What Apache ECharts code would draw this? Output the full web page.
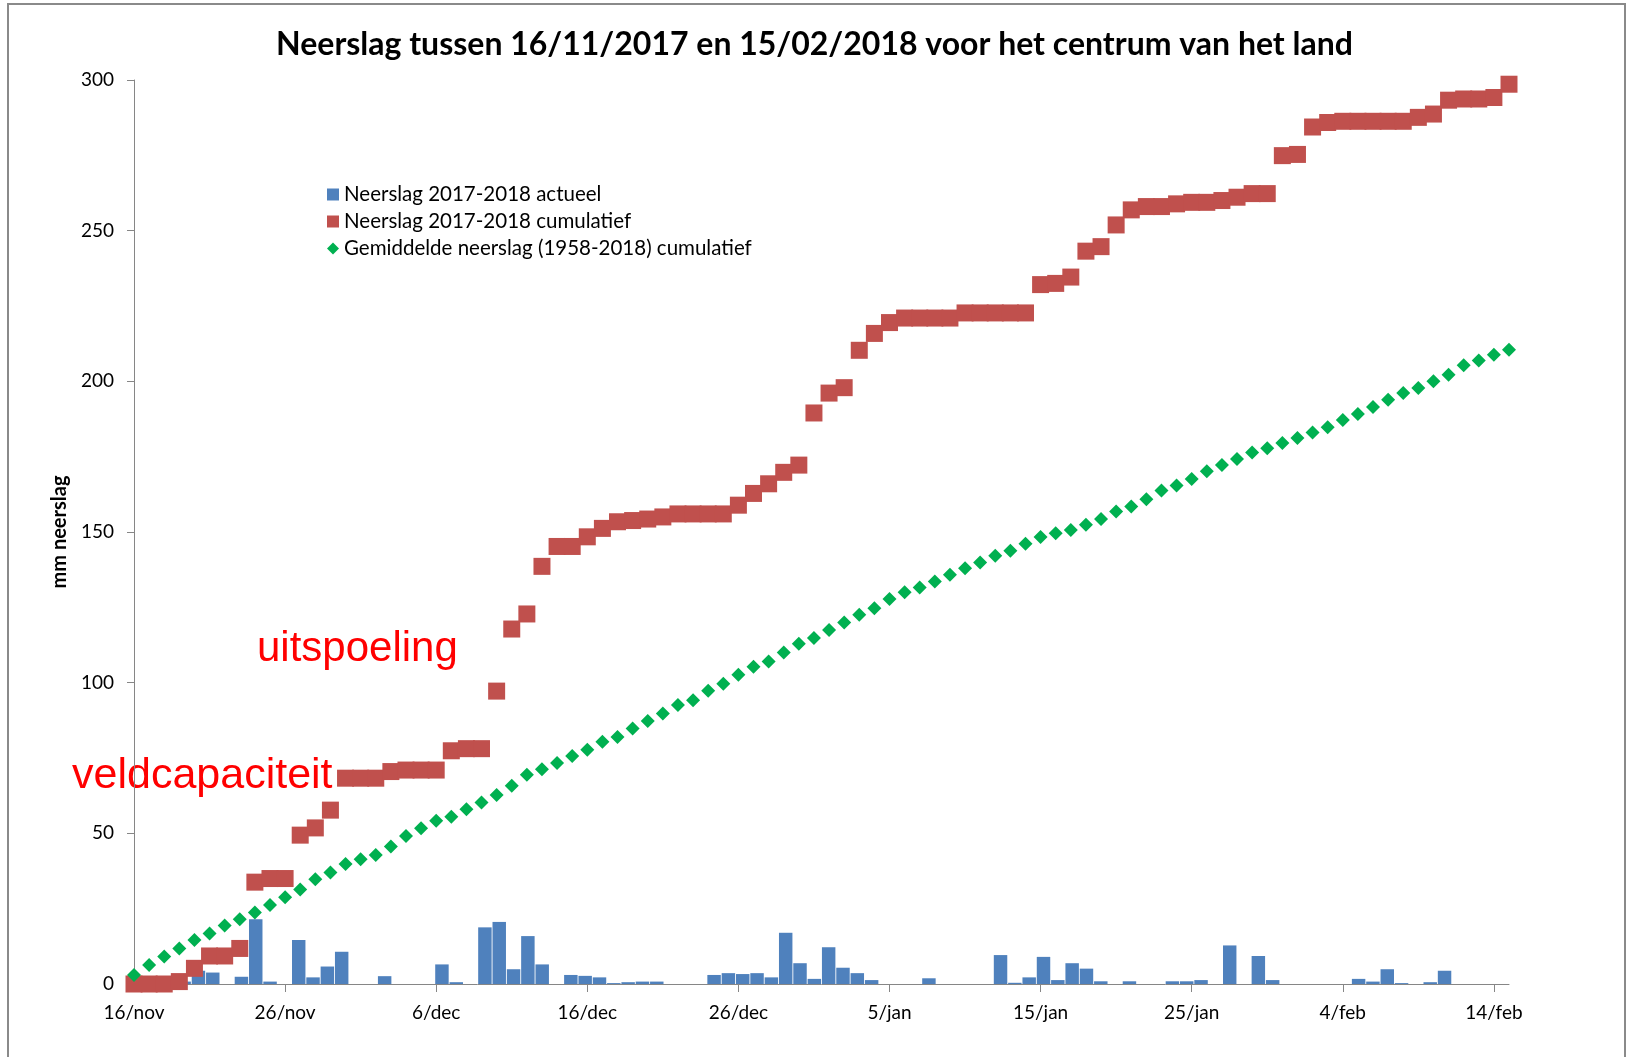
<!DOCTYPE html>
<html>
<head>
<meta charset="utf-8">
<script src="https://cdn.jsdelivr.net/npm/echarts@6/dist/echarts.min.js"></script>
<style>
html,body{margin:0;padding:0;background:#fff;}
#chart{width:1629px;height:1057px;}
</style>
</head>
<body>
<div id="chart"></div>
<script>
// Period: 16/nov/2017 .. 15/feb/2018 (92 days)
const monthSpans = [['nov', 16, 30], ['dec', 1, 31], ['jan', 1, 31], ['feb', 1, 15]];
const dayLabels = [];
monthSpans.forEach(function (m) { for (let d = m[1]; d <= m[2]; d++) dayLabels.push(d + '/' + m[0]); });

// Daily precipitation (mm) 2017-2018
const dailyActual = [
  0, 0, 0, 0.8, 4.4, 3.8, 0, 2.4, 21.5, 0.8,
  0, 14.6, 2.2, 5.8, 10.7, 0, 0, 2.6, 0, 0,
  0, 6.5, 0.6, 0, 18.8, 20.6, 4.9, 15.9, 6.5, 0,
  3.0, 2.7, 2.2, 0.3, 0.6, 0.8, 0.8, 0, 0, 0,
  3.0, 3.6, 3.3, 3.6, 2.2, 17.0, 6.9, 1.7, 12.2, 5.4,
  3.6, 1.3, 0, 0, 0, 1.9, 0, 0, 0, 0,
  9.6, 0.4, 2.2, 9.0, 1.3, 6.9, 5.1, 0.9, 0, 0.9,
  0, 0, 0.9, 0.9, 1.3, 0, 12.8, 0, 9.3, 1.3,
  0, 0, 0, 0, 0, 1.7, 0.8, 4.9, 0.3, 0,
  0.6, 4.4
];

// Cumulative precipitation 2017-2018 (mm)
const cumulative = [
  0, 0, 0, 0.8, 5.2, 9.3, 9.3, 11.8, 33.8, 35,
  35, 49.4, 51.8, 57.7, 68.3, 68.3, 68.3, 70.5, 71, 71,
  71, 77.4, 78.1, 78.1, 97.2, 117.8, 122.8, 138.6, 145.2, 145.2,
  148.4, 151.2, 153.4, 153.8, 154.3, 155.0, 156.0, 156.0, 156.0, 156.0,
  158.9, 162.8, 166.0, 169.8, 172.2, 189.5, 196.1, 197.9, 210.3, 215.9,
  219.5, 221.0, 221.0, 221.0, 221.0, 222.7, 222.7, 222.7, 222.7, 222.7,
  232.1, 232.5, 234.6, 243.2, 244.7, 251.9, 256.9, 258.0, 258.0, 258.9,
  259.4, 259.4, 260.0, 261.1, 262.3, 262.3, 274.9, 275.3, 284.4, 285.9,
  286.3, 286.3, 286.3, 286.3, 286.3, 287.6, 288.7, 293.3, 293.7, 293.7,
  294.2, 298.6
];

// Average cumulative precipitation 1958-2018 (mm)
const averageCumulative = [
  3.0, 6.3, 9.1, 11.8, 14.6, 16.8, 19.4, 21.5, 23.7, 26.2,
  28.8, 31.4, 34.8, 37.0, 39.8, 41.4, 42.8, 45.6, 49.1, 51.7,
  54.2, 55.5, 58.0, 60.2, 62.7, 65.8, 69.4, 71.3, 73.3, 75.7,
  77.7, 80.4, 82.0, 84.8, 87.3, 89.8, 92.6, 94.2, 97.3, 99.6,
  102.6, 105.3, 107.0, 110.0, 112.9, 114.8, 117.5, 120.0, 122.5, 124.7,
  127.8, 130.0, 131.6, 133.6, 135.8, 138.0, 139.9, 142.1, 143.8, 146.1,
  148.3, 149.6, 150.7, 152.4, 154.3, 156.8, 158.5, 160.9, 163.8, 165.4,
  167.6, 170.2, 172.2, 174.2, 176.4, 177.8, 179.5, 181.2, 183.0, 184.8,
  187.2, 189.2, 191.5, 193.9, 196.1, 197.8, 200.0, 202.2, 205.3, 206.9,
  208.8, 210.5
];

// The bar series sits on its own category axis of 96 slots (4 trailing empty)
const barSlots = dayLabels.concat(['', '', '', '']);

const seriesNames = [
  'Neerslag 2017-2018 actueel',
  'Neerslag 2017-2018 cumulatief',
  'Gemiddelde neerslag (1958-2018) cumulatief'
];

const chart = echarts.init(document.getElementById('chart'), null, { renderer: 'canvas' });
const every10 = function (i) { return i % 10 === 0; };
const axisGray = '#868686';
const font = 'Lato, "Open Sans", sans-serif';

chart.setOption({
  animation: false,
  backgroundColor: '#ffffff',
  title: {
    text: 'Neerslag tussen 16/11/2017 en 15/02/2018 voor het centrum van het land',
    left: 'center',
    top: 24,
    textStyle: { fontFamily: font, fontWeight: 'bold', fontSize: 32, color: '#000' }
  },
  legend: {
    orient: 'vertical',
    left: 322,
    top: 179,
    itemWidth: 12,
    itemHeight: 12,
    itemGap: 6,
    textStyle: { fontFamily: font, fontSize: 20.5, color: '#000' },
    data: [
      { name: seriesNames[0], icon: 'rect' },
      { name: seriesNames[1], icon: 'rect' },
      { name: seriesNames[2], icon: 'diamond' }
    ]
  },
  grid: { left: 134, right: 120, top: 80, bottom: 73, containLabel: false },
  xAxis: [
    {
      type: 'category',
      data: dayLabels,
      boundaryGap: false,
      axisLine: { lineStyle: { color: axisGray, width: 1 } },
      axisTick: { show: true, interval: every10, length: 8, lineStyle: { color: axisGray } },
      axisLabel: { interval: every10, margin: 19, fontFamily: font, fontSize: 19, color: '#000' },
      splitLine: { show: false }
    },
    {
      type: 'category',
      data: barSlots,
      boundaryGap: true,
      show: false
    }
  ],
  yAxis: {
    type: 'value',
    min: 0,
    max: 300,
    interval: 50,
    name: 'mm neerslag',
    nameLocation: 'middle',
    nameRotate: 90,
    nameGap: 60,
    nameTextStyle: { fontFamily: font, fontWeight: 'bold', fontSize: 20, color: '#000' },
    axisLine: { show: true, lineStyle: { color: axisGray, width: 1 } },
    axisTick: { show: true, length: 7, lineStyle: { color: axisGray } },
    axisLabel: { margin: 20, fontFamily: font, fontSize: 19, color: '#000' },
    splitLine: { show: false }
  },
  series: [
    {
      name: seriesNames[0],
      type: 'bar',
      xAxisIndex: 1,
      data: dailyActual,
      barWidth: '94%',
      itemStyle: { color: '#4F81BD' }
    },
    {
      name: seriesNames[1],
      type: 'scatter',
      xAxisIndex: 0,
      data: cumulative,
      symbol: 'rect',
      symbolSize: 17,
      itemStyle: { color: '#C0504D', opacity: 1 }
    },
    {
      name: seriesNames[2],
      type: 'scatter',
      xAxisIndex: 0,
      data: averageCumulative,
      symbol: 'diamond',
      symbolSize: 14,
      itemStyle: { color: '#00B050', opacity: 1 }
    }
  ],
  graphic: [
    {
      type: 'rect',
      shape: { x: 8, y: 4, width: 1617, height: 1100 },
      style: { fill: 'none', stroke: '#8a8a8a', lineWidth: 2 },
      silent: true
    },
    {
      type: 'text',
      left: 257,
      top: 628,
      style: { text: 'uitspoeling', fill: '#FF0000', font: '42px "Liberation Sans", Arial, sans-serif' },
      silent: true
    },
    {
      type: 'text',
      left: 72,
      top: 755,
      style: { text: 'veldcapaciteit', fill: '#FF0000', font: '43px "Liberation Sans", Arial, sans-serif' },
      silent: true
    }
  ]
});
</script>
</body>
</html>
